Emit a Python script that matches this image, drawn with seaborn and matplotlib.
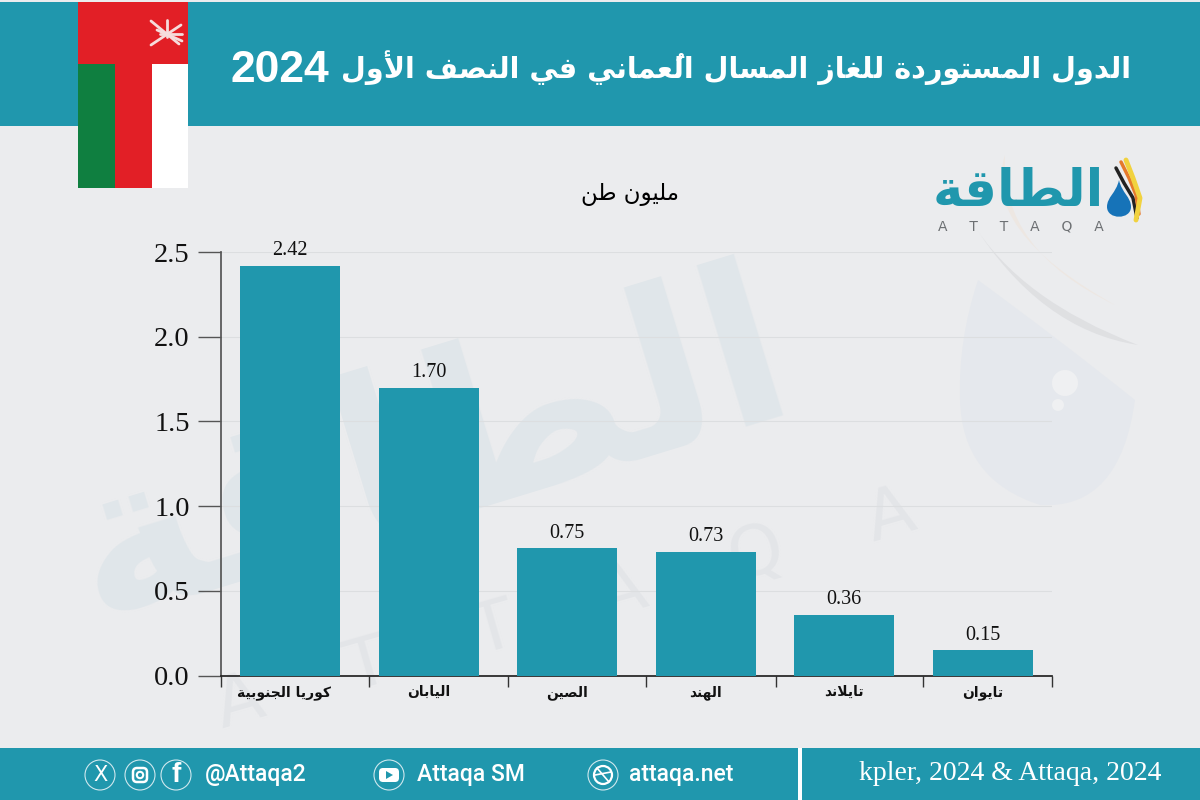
import unicodedata

import matplotlib
matplotlib.use("Agg")
import matplotlib.pyplot as plt
import pandas as pd
import seaborn as sns
from matplotlib.patches import Circle, FancyBboxPatch, PathPatch, Polygon, Rectangle
from matplotlib.path import Path
from matplotlib.transforms import ScaledTranslation

# Chart data
countries = ["كوريا الجنوبية", "اليابان", "الصين", "الهند", "تايلاند", "تايوان"]
imports_mt = [2.42, 1.70, 0.75, 0.73, 0.36, 0.15]
y_ticks = [0.0, 0.5, 1.0, 1.5, 2.0, 2.5]
title_text = "الدول المستوردة للغاز المسال العُماني في النصف الأول"
title_year = "2024"
unit_text = "مليون طن"
logo_text = "الطاقة"

TEAL = "#2097ad"
BG = "#ebecee"
RED = "#e21f26"
GREEN = "#0f7f40"
WM = "#e0e6ea"

RIGHT_JOIN = "اأإآدذرزوؤةى"
LAM_ALEF = {"ا": "ALEF", "أ": "ALEF WITH HAMZA ABOVE", "إ": "ALEF WITH HAMZA BELOW", "آ": "ALEF WITH MADDA ABOVE"}


def shape_word(word):
    # matplotlib has no Arabic shaping, so pick presentation forms by hand
    if not any("\u0621" <= c <= "\u064a" for c in word):
        return word
    letters = []
    for c in word:
        if unicodedata.combining(c) and letters:
            letters[-1][1] += c
        else:
            letters.append([c, ""])
    glyphs = []
    i = 0
    while i < len(letters):
        c, mark = letters[i]
        prev_joins = i > 0 and letters[i - 1][0] not in RIGHT_JOIN
        if c == "ل" and i + 1 < len(letters) and letters[i + 1][0] in LAM_ALEF:
            form = "FINAL" if prev_joins else "ISOLATED"
            name = "ARABIC LIGATURE LAM WITH " + LAM_ALEF[letters[i + 1][0]] + " " + form + " FORM"
            glyphs.append(unicodedata.lookup(name))
            i += 2
            continue
        next_joins = i + 1 < len(letters) and c not in RIGHT_JOIN
        if prev_joins and next_joins:
            form = "MEDIAL"
        elif prev_joins:
            form = "FINAL"
        elif next_joins:
            form = "INITIAL"
        else:
            form = "ISOLATED"
        glyphs.append(unicodedata.lookup(unicodedata.name(c) + " " + form + " FORM") + mark)
        i += 1
    return "".join(reversed(glyphs))


def ar(text):
    return " ".join(shape_word(w) for w in reversed(text.split(" ")))


def drop(ax, cx, top, bottom, half, color, alpha=1.0, z=2):
    mid = bottom - (bottom - top) * 0.36
    verts = [(cx, top), (cx - half * 0.25, top + (mid - top) * 0.5), (cx - half, mid - 10), (cx - half, mid),
             (cx - half, bottom - 2), (cx + half, bottom - 2), (cx + half, mid),
             (cx + half, mid - 10), (cx + half * 0.25, top + (mid - top) * 0.5), (cx, top)]
    codes = [Path.MOVETO] + [Path.CURVE4] * 9
    ax.add_patch(PathPatch(Path(verts, codes), fc=color, ec="none", alpha=alpha, zorder=z))


def swoosh(ax, verts, color, z=1):
    codes = [Path.MOVETO, Path.CURVE3, Path.CURVE3, Path.CURVE3, Path.CURVE3]
    ax.add_patch(PathPatch(Path(verts, codes), fc=color, ec="none", alpha=0.8, zorder=z))


sns.set_theme(style="white")
plt.rcParams["font.family"] = ["Liberation Serif", "DejaVu Sans"]

fig = plt.figure(figsize=(12, 8), dpi=100, facecolor=BG)

# Background layer in pixel coordinates
deco = fig.add_axes([0, 0, 1, 1], zorder=0)
deco.set_xlim(0, 1200)
deco.set_ylim(800, 0)
deco.axis("off")

# Watermark
deco.text(430, 455, ar(logo_text), fontsize=160, color=WM, weight="bold", family="DejaVu Sans",
          rotation=17, rotation_mode="anchor", ha="center", va="center", zorder=1)
deco.text(565, 610, "A    T    T    A    Q    A", fontsize=50, color="#e3e5e8", family="DejaVu Sans",
          rotation=16, rotation_mode="anchor", ha="center", va="center", zorder=1)
drop_verts = [(978, 280), (958, 340), (960, 400), (962, 480), (1040, 505), (1120, 510), (1135, 400), (1060, 340), (978, 280)]
drop_codes = [Path.MOVETO] + [Path.CURVE3] * 8
deco.add_patch(PathPatch(Path(drop_verts, drop_codes), fc="#e5e8ed", ec="none", zorder=1))
deco.add_patch(Circle((1065, 383), 13, fc="#eff0f2", ec="none", zorder=1))
deco.add_patch(Circle((1058, 405), 6, fc="#eff0f2", ec="none", zorder=1))
swoosh(deco, [(972, 222), (1020, 300), (1138, 345), (1040, 330), (972, 222)], "#dcdde0")
swoosh(deco, [(1005, 155), (980, 230), (1115, 305), (1000, 250), (1005, 155)], "#eee6df")

# Header and footer bands
deco.add_patch(Rectangle((0, 2), 1200, 123.5, fc=TEAL, ec="none", zorder=2))
deco.add_patch(Rectangle((0, 748), 1200, 52, fc=TEAL, ec="none", zorder=2))
deco.add_patch(Rectangle((798, 748), 4, 52, fc="white", ec="none", zorder=3))
deco.text(1131, 68, ar(title_text), fontsize=20.6, color="white", weight="bold", family="DejaVu Sans",
          ha="right", va="center", zorder=3)
deco.text(231, 71, title_year, fontsize=32, color="white", weight="bold", family="Liberation Sans",
          ha="left", va="center", zorder=3)

# Flag
deco.add_patch(Rectangle((78, 2), 110, 186, fc=RED, ec="none", zorder=4))
deco.add_patch(Rectangle((78, 64), 37, 124, fc=GREEN, ec="none", zorder=5))
deco.add_patch(Rectangle((152, 64), 36, 124, fc="white", ec="none", zorder=5))
for (x0, y0, x1, y1) in [(151, 21, 179, 44), (151, 45, 181, 25), (157, 30, 182, 41), (167, 20, 167, 37), (160, 34, 182, 34)]:
    deco.plot([x0, x1], [y0, y1], color="#f6dcdc", lw=2, zorder=6)

# Logo
deco.text(1018, 192, ar(logo_text), fontsize=37, color=TEAL, weight="bold", family="DejaVu Sans",
          ha="center", va="center", zorder=3)
deco.text(1021, 226, "A     T     T     A     Q     A", fontsize=10, color="#6d7073", family="DejaVu Sans",
          ha="center", va="center", zorder=3)
deco.plot([1116, 1124, 1133, 1137], [168, 183, 198, 218], color="#222222", lw=2.5, zorder=3)
deco.plot([1121, 1129, 1136, 1139], [162, 178, 195, 214], color="#e5792b", lw=2.5, zorder=3)
deco.plot([1126, 1133, 1140, 1136], [160, 178, 198, 220], color="#f1d23f", lw=3.5, zorder=3)
drop(deco, 1119, 180, 222, 12, "#1673b8", 1, 4)

# Footer content
foot = dict(color="white", family="Roboto", weight="medium", fontsize=16.5, va="center", zorder=4)
for cx in [100, 140, 176, 389, 603]:
    deco.add_patch(Circle((cx, 775), 15, fc="none", ec="#cfe8ee", lw=0.8, zorder=4))
deco.text(100, 775, "X", color="white", fontsize=15, family="DejaVu Sans", ha="center", va="center", zorder=4)
deco.add_patch(FancyBboxPatch((133, 768), 14, 14, boxstyle="round,pad=0,rounding_size=4", fc="none", ec="white", lw=1.8, zorder=4))
deco.add_patch(Circle((140, 775), 3.2, fc="none", ec="white", lw=1.5, zorder=4))
deco.text(176, 775, "f", color="white", fontsize=20, weight="bold", family="Liberation Sans", ha="center", va="center", zorder=4)
deco.add_patch(FancyBboxPatch((379, 768), 20, 14, boxstyle="round,pad=0,rounding_size=4", fc="white", ec="none", zorder=4))
deco.add_patch(Polygon([(386, 771), (386, 779), (393, 775)], fc=TEAL, ec="none", zorder=5))
deco.add_patch(Circle((603, 775), 9, fc="none", ec="white", lw=1.6, zorder=4))
deco.plot([597, 609], [768, 782], color="white", lw=1.2, zorder=4)
deco.plot([595, 611], [775, 772], color="white", lw=1.2, zorder=4)
deco.text(205, 775, "@Attaqa2", **foot)
deco.text(417, 775, "Attaqa SM", **foot)
deco.text(629, 775, "attaqa.net", **foot)
deco.text(1161, 773, "kpler, 2024 & Attaqa, 2024", color="white", fontsize=20, family="Liberation Serif",
          ha="right", va="center", zorder=4)
deco.text(630, 195, ar(unit_text), color="black", fontsize=16.5, family="DejaVu Sans", ha="center", va="center", zorder=4)

# Bar chart
df = pd.DataFrame({"country": [ar(c) for c in countries], "imports": imports_mt})
ax = fig.add_axes([221 / 1200, 1 - 675.5 / 800, 831 / 1200, 423.5 / 800], zorder=1)
ax.patch.set_alpha(0)
sns.barplot(data=df, x="country", y="imports", color=TEAL, saturation=1, width=0.72, linewidth=0, ax=ax, zorder=3)
ax.set_xlim(-0.5, 5.5)
ax.set_ylim(0, 2.5)
ax.set_xlabel("")
ax.set_ylabel("")
ax.set_yticks(y_ticks, [f"{v:.1f}" for v in y_ticks])
ax.tick_params(axis="y", direction="out", length=16.5, width=1, color="#555555", labelsize=20.5, labelcolor="#111111",
               pad=6, left=True)
ax.tick_params(axis="x", which="major", length=0, labelsize=10, pad=7, labelcolor="#111111")
for lab in ax.get_xticklabels():
    lab.set_family("DejaVu Sans")
    lab.set_weight("bold")
ax.get_xticklabels()[0].set_transform(ax.get_xticklabels()[0].get_transform() + ScaledTranslation(-6 / 100, 0, fig.dpi_scale_trans))
ax.set_xticks([-0.5, 0.569, 1.57, 2.57, 3.505, 4.57, 5.5], minor=True)
ax.tick_params(axis="x", which="minor", direction="out", length=8, width=1, color="#333333", bottom=True)
ax.grid(axis="y", color="#dcdee0", lw=0.8, zorder=0)
ax.set_axisbelow(True)
sns.despine(ax=ax, top=True, right=True)
ax.spines["left"].set_color("#555555")
ax.spines["bottom"].set_color("#222222")
ax.bar_label(ax.containers[0], fmt="%.2f", padding=4, fontsize=14.5, color="#111111")

fig.savefig("out.png", dpi=100, facecolor=BG)
